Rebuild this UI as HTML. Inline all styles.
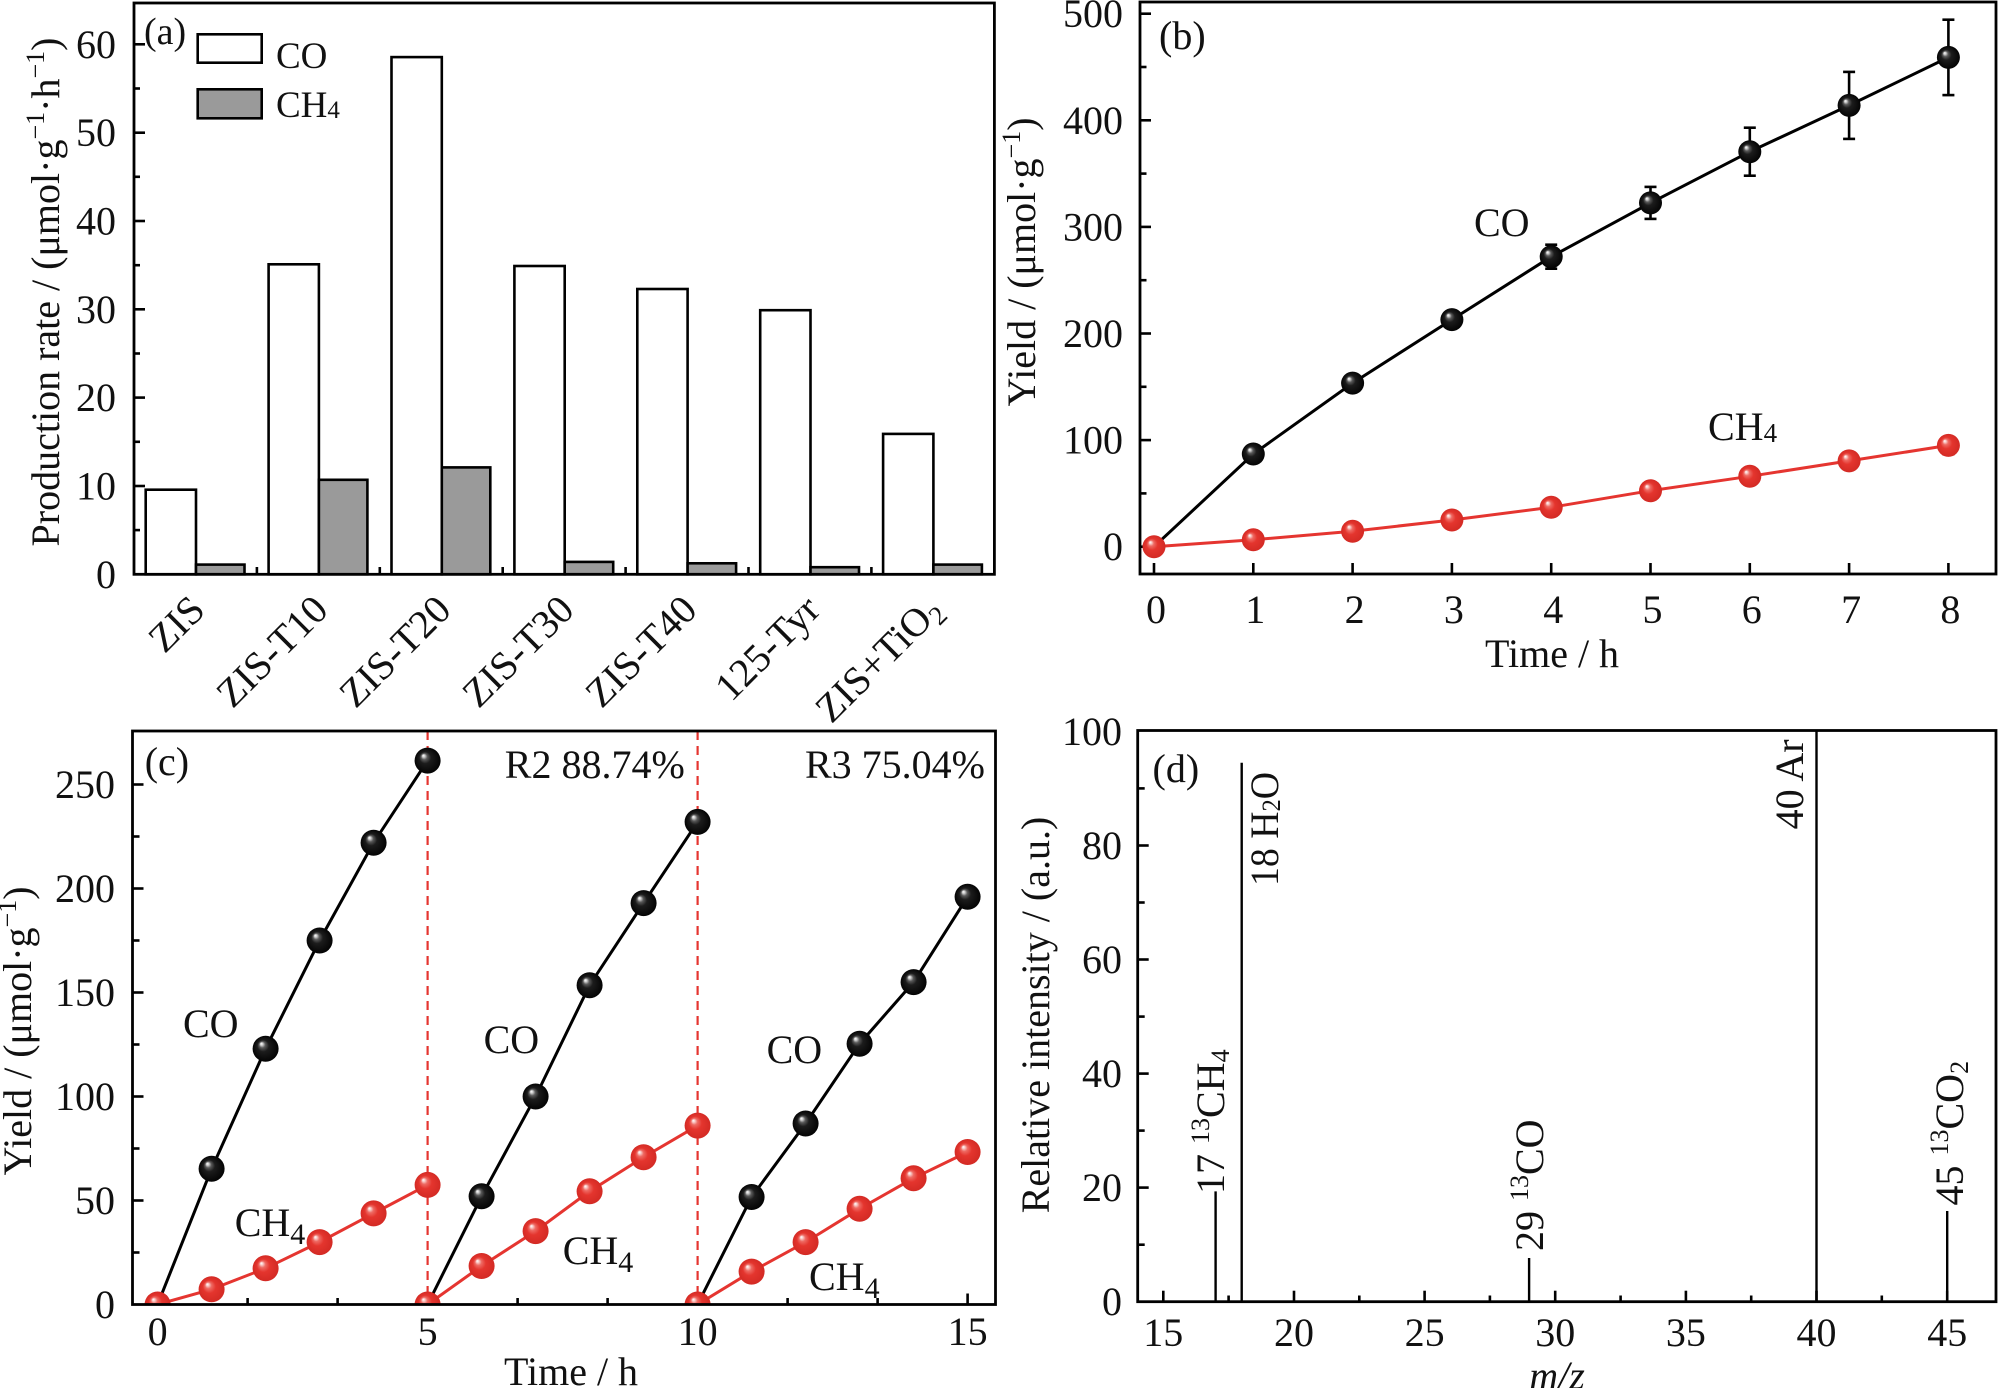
<!DOCTYPE html>
<html>
<head>
<meta charset="utf-8">
<style>
html,body{margin:0;padding:0;background:#fff;}
svg{display:block;}
text{font-family:"Liberation Serif","Times New Roman",serif;fill:#111;}
</style>
</head>
<body>
<svg width="2000" height="1388" viewBox="0 0 2000 1388" xmlns="http://www.w3.org/2000/svg">
<defs>
  <radialGradient id="gk" cx="0.5" cy="0.5" r="0.5" fx="0.33" fy="0.3">
    <stop offset="0" stop-color="#ffffff"/>
    <stop offset="0.1" stop-color="#d0d0d0"/>
    <stop offset="0.24" stop-color="#5a5a5a"/>
    <stop offset="0.45" stop-color="#1c1c1c"/>
    <stop offset="1" stop-color="#030303"/>
  </radialGradient>
  <radialGradient id="gr" cx="0.5" cy="0.5" r="0.5" fx="0.33" fy="0.3">
    <stop offset="0" stop-color="#ffffff"/>
    <stop offset="0.1" stop-color="#f9cfcc"/>
    <stop offset="0.25" stop-color="#ee6a63"/>
    <stop offset="0.5" stop-color="#e4352e"/>
    <stop offset="1" stop-color="#d32a24"/>
  </radialGradient>
  <clipPath id="clipc"><rect x="132.5" y="731" width="863" height="573.5"/></clipPath>
</defs>
<rect width="2000" height="1388" fill="#fff"/>

<!-- ================= PANEL A ================= -->
<g stroke="#000" stroke-width="2.6">
  <rect x="145.7" y="489.7" width="50.3" height="84.6" fill="#fff"/>
  <rect x="196" y="564.6" width="48.5" height="9.7" fill="#9a9a9a"/>
  <rect x="268.6" y="264.3" width="50.3" height="310" fill="#fff"/>
  <rect x="318.9" y="479.8" width="48.5" height="94.5" fill="#9a9a9a"/>
  <rect x="391.5" y="57.1" width="50.3" height="517.2" fill="#fff"/>
  <rect x="441.8" y="467.4" width="48.5" height="106.9" fill="#9a9a9a"/>
  <rect x="514.4" y="266.0" width="50.3" height="308.3" fill="#fff"/>
  <rect x="564.7" y="561.9" width="48.5" height="12.4" fill="#9a9a9a"/>
  <rect x="637.3" y="289.0" width="50.3" height="285.3" fill="#fff"/>
  <rect x="687.6" y="563.3" width="48.5" height="11" fill="#9a9a9a"/>
  <rect x="760.2" y="310.2" width="50.3" height="264.1" fill="#fff"/>
  <rect x="810.5" y="567.2" width="48.5" height="7.1" fill="#9a9a9a"/>
  <rect x="883.1" y="433.9" width="50.3" height="140.4" fill="#fff"/>
  <rect x="933.4" y="564.6" width="48.5" height="9.7" fill="#9a9a9a"/>
</g>
<rect x="134" y="3" width="860.4" height="571.3" fill="none" stroke="#000" stroke-width="2.8"/>
<g stroke="#000" stroke-width="2.6">
  <!-- y ticks major -->
  <line x1="134" y1="486" x2="145" y2="486"/>
  <line x1="134" y1="397.6" x2="145" y2="397.6"/>
  <line x1="134" y1="309.3" x2="145" y2="309.3"/>
  <line x1="134" y1="221" x2="145" y2="221"/>
  <line x1="134" y1="132.7" x2="145" y2="132.7"/>
  <line x1="134" y1="44.3" x2="145" y2="44.3"/>
  <!-- minor -->
  <line x1="134" y1="530.1" x2="140" y2="530.1"/>
  <line x1="134" y1="441.8" x2="140" y2="441.8"/>
  <line x1="134" y1="353.5" x2="140" y2="353.5"/>
  <line x1="134" y1="265.2" x2="140" y2="265.2"/>
  <line x1="134" y1="176.8" x2="140" y2="176.8"/>
  <line x1="134" y1="88.5" x2="140" y2="88.5"/>
  <!-- x ticks -->
  <line x1="256.9" y1="574.3" x2="256.9" y2="567"/>
  <line x1="379.8" y1="574.3" x2="379.8" y2="567"/>
  <line x1="502.7" y1="574.3" x2="502.7" y2="567"/>
  <line x1="625.6" y1="574.3" x2="625.6" y2="567"/>
  <line x1="748.5" y1="574.3" x2="748.5" y2="567"/>
  <line x1="871.4" y1="574.3" x2="871.4" y2="567"/>
</g>
<g font-size="40" text-anchor="end">
  <text x="116" y="587.8">0</text>
  <text x="116" y="499.5">10</text>
  <text x="116" y="411.1">20</text>
  <text x="116" y="322.8">30</text>
  <text x="116" y="234.5">40</text>
  <text x="116" y="146.2">50</text>
  <text x="116" y="57.8">60</text>
</g>
<g font-size="40" text-anchor="end">
  <text transform="translate(207,612) rotate(-45)">ZIS</text>
  <text transform="translate(330,612) rotate(-45)">ZIS-T10</text>
  <text transform="translate(453,612) rotate(-45)">ZIS-T20</text>
  <text transform="translate(576,612) rotate(-45)">ZIS-T30</text>
  <text transform="translate(699,612) rotate(-45)">ZIS-T40</text>
  <text transform="translate(822,612) rotate(-45)">125-Tyr</text>
  <text transform="translate(944,612) rotate(-45)">ZIS+TiO<tspan font-size="27" dy="7">2</tspan></text>
</g>
<text transform="translate(59,292) rotate(-90)" font-size="40" text-anchor="middle">Production rate / (μmol·g<tspan font-size="26" dy="-15">−1</tspan><tspan dy="15">·h</tspan><tspan font-size="26" dy="-15">−1</tspan><tspan dy="15">)</tspan></text>
<text x="144" y="44" font-size="38">(a)</text>
<rect x="197.7" y="34.3" width="64" height="28.4" fill="#fff" stroke="#000" stroke-width="2.6"/>
<rect x="197.7" y="89.3" width="64" height="29" fill="#9a9a9a" stroke="#000" stroke-width="2.6"/>
<text x="276" y="68" font-size="37">CO</text>
<text x="276" y="117" font-size="37">CH<tspan font-size="25" dy="1">4</tspan></text>

<!-- ================= PANEL B ================= -->
<rect x="1140" y="2" width="856" height="572" fill="none" stroke="#000" stroke-width="2.8"/>
<g stroke="#000" stroke-width="2.6">
  <line x1="1140" y1="546.7" x2="1151" y2="546.7"/>
  <line x1="1140" y1="440.1" x2="1151" y2="440.1"/>
  <line x1="1140" y1="333.5" x2="1151" y2="333.5"/>
  <line x1="1140" y1="226.9" x2="1151" y2="226.9"/>
  <line x1="1140" y1="120.3" x2="1151" y2="120.3"/>
  <line x1="1140" y1="13.7" x2="1151" y2="13.7"/>
  <line x1="1140" y1="493.4" x2="1146.5" y2="493.4"/>
  <line x1="1140" y1="386.8" x2="1146.5" y2="386.8"/>
  <line x1="1140" y1="280.2" x2="1146.5" y2="280.2"/>
  <line x1="1140" y1="173.6" x2="1146.5" y2="173.6"/>
  <line x1="1140" y1="67" x2="1146.5" y2="67"/>
  <line x1="1154" y1="574" x2="1154" y2="563"/>
  <line x1="1253.3" y1="574" x2="1253.3" y2="563"/>
  <line x1="1352.6" y1="574" x2="1352.6" y2="563"/>
  <line x1="1451.9" y1="574" x2="1451.9" y2="563"/>
  <line x1="1551.2" y1="574" x2="1551.2" y2="563"/>
  <line x1="1650.5" y1="574" x2="1650.5" y2="563"/>
  <line x1="1749.8" y1="574" x2="1749.8" y2="563"/>
  <line x1="1849.1" y1="574" x2="1849.1" y2="563"/>
  <line x1="1948.4" y1="574" x2="1948.4" y2="563"/>
</g>
<g font-size="40" text-anchor="end">
  <text x="1123" y="560.2">0</text>
  <text x="1123" y="453.6">100</text>
  <text x="1123" y="347">200</text>
  <text x="1123" y="240.4">300</text>
  <text x="1123" y="133.8">400</text>
  <text x="1123" y="27.2">500</text>
</g>
<g font-size="40" text-anchor="middle">
  <text x="1156" y="623">0</text>
  <text x="1255.3" y="623">1</text>
  <text x="1354.6" y="623">2</text>
  <text x="1453.9" y="623">3</text>
  <text x="1553.2" y="623">4</text>
  <text x="1652.5" y="623">5</text>
  <text x="1751.8" y="623">6</text>
  <text x="1851.1" y="623">7</text>
  <text x="1950.4" y="623">8</text>
</g>
<text x="1552" y="667" font-size="40" text-anchor="middle">Time / h</text>
<text transform="translate(1035,262) rotate(-90)" font-size="40" text-anchor="middle">Yield / (μmol·g<tspan font-size="26" dy="-15">−1</tspan><tspan dy="15">)</tspan></text>
<text x="1159" y="49" font-size="40">(b)</text>
<text x="1474" y="236" font-size="40">CO</text>
<text x="1708" y="440" font-size="40">CH<tspan font-size="27" dy="2">4</tspan></text>
<!-- lines -->
<polyline fill="none" stroke="#000" stroke-width="3" points="1154,546.7 1253.3,454 1352.6,383.1 1451.9,319.6 1551.2,256.7 1650.5,202.9 1749.8,151.7 1849.1,105.4 1948.4,57.4"/>
<polyline fill="none" stroke="#e53530" stroke-width="3" points="1154,546.7 1253.3,539.8 1352.6,531.2 1451.9,520 1551.2,507.3 1650.5,490.7 1749.8,476.3 1849.1,460.9 1948.4,445.4"/>
<!-- error bars -->
<g stroke="#000" stroke-width="2.6">
  <line x1="1551.2" y1="244.7" x2="1551.2" y2="268.7"/><line x1="1545.2" y1="244.7" x2="1557.2" y2="244.7"/><line x1="1545.2" y1="268.7" x2="1557.2" y2="268.7"/>
  <line x1="1650.5" y1="186.9" x2="1650.5" y2="218.9"/><line x1="1644.5" y1="186.9" x2="1656.5" y2="186.9"/><line x1="1644.5" y1="218.9" x2="1656.5" y2="218.9"/>
  <line x1="1749.8" y1="127.7" x2="1749.8" y2="175.7"/><line x1="1743.8" y1="127.7" x2="1755.8" y2="127.7"/><line x1="1743.8" y1="175.7" x2="1755.8" y2="175.7"/>
  <line x1="1849.1" y1="71.9" x2="1849.1" y2="138.9"/><line x1="1843.1" y1="71.9" x2="1855.1" y2="71.9"/><line x1="1843.1" y1="138.9" x2="1855.1" y2="138.9"/>
  <line x1="1948.4" y1="19.7" x2="1948.4" y2="95.1"/><line x1="1942.4" y1="19.7" x2="1954.4" y2="19.7"/><line x1="1942.4" y1="95.1" x2="1954.4" y2="95.1"/>
</g>
<g stroke="#d32a24" stroke-width="2.4">
  <line x1="1948.4" y1="436.4" x2="1948.4" y2="454.4"/><line x1="1942.4" y1="454.4" x2="1954.4" y2="454.4"/>
  <line x1="1849.1" y1="453.9" x2="1849.1" y2="467.9"/><line x1="1843.1" y1="467.9" x2="1855.1" y2="467.9"/>
</g>
<!-- markers -->
<g fill="url(#gk)">
  <circle cx="1253.3" cy="454" r="11.5"/>
  <circle cx="1352.6" cy="383.1" r="11.5"/>
  <circle cx="1451.9" cy="319.6" r="11.5"/>
  <circle cx="1551.2" cy="256.7" r="11.5"/>
  <circle cx="1650.5" cy="202.9" r="11.5"/>
  <circle cx="1749.8" cy="151.7" r="11.5"/>
  <circle cx="1849.1" cy="105.4" r="11.5"/>
  <circle cx="1948.4" cy="57.4" r="11.5"/>
</g>
<g fill="url(#gr)">
  <circle cx="1154" cy="546.7" r="11.5"/>
  <circle cx="1253.3" cy="539.8" r="11.5"/>
  <circle cx="1352.6" cy="531.2" r="11.5"/>
  <circle cx="1451.9" cy="520" r="11.5"/>
  <circle cx="1551.2" cy="507.3" r="11.5"/>
  <circle cx="1650.5" cy="490.7" r="11.5"/>
  <circle cx="1749.8" cy="476.3" r="11.5"/>
  <circle cx="1849.1" cy="460.9" r="11.5"/>
  <circle cx="1948.4" cy="445.4" r="11.5"/>
</g>

<!-- ================= PANEL C ================= -->
<g stroke="#e53530" stroke-width="2.2" stroke-dasharray="9 6">
  <line x1="427.6" y1="731" x2="427.6" y2="1304.5"/>
  <line x1="697.6" y1="731" x2="697.6" y2="1304.5"/>
</g>
<g stroke="#000" stroke-width="2.6">
  <line x1="132.5" y1="1200.5" x2="143.5" y2="1200.5"/>
  <line x1="132.5" y1="1096.5" x2="143.5" y2="1096.5"/>
  <line x1="132.5" y1="992.5" x2="143.5" y2="992.5"/>
  <line x1="132.5" y1="888.5" x2="143.5" y2="888.5"/>
  <line x1="132.5" y1="784.5" x2="143.5" y2="784.5"/>
  <line x1="132.5" y1="1252.5" x2="139.5" y2="1252.5"/>
  <line x1="132.5" y1="1148.5" x2="139.5" y2="1148.5"/>
  <line x1="132.5" y1="1044.5" x2="139.5" y2="1044.5"/>
  <line x1="132.5" y1="940.5" x2="139.5" y2="940.5"/>
  <line x1="132.5" y1="836.5" x2="139.5" y2="836.5"/>
  <line x1="157.6" y1="1304.5" x2="157.6" y2="1293.5"/>
  <line x1="427.6" y1="1304.5" x2="427.6" y2="1293.5"/>
  <line x1="697.6" y1="1304.5" x2="697.6" y2="1293.5"/>
  <line x1="967.6" y1="1304.5" x2="967.6" y2="1293.5"/>
  <line x1="247.6" y1="1304.5" x2="247.6" y2="1298"/>
  <line x1="337.6" y1="1304.5" x2="337.6" y2="1298"/>
  <line x1="517.6" y1="1304.5" x2="517.6" y2="1298"/>
  <line x1="607.6" y1="1304.5" x2="607.6" y2="1298"/>
  <line x1="787.6" y1="1304.5" x2="787.6" y2="1298"/>
  <line x1="877.6" y1="1304.5" x2="877.6" y2="1298"/>
</g>
<g font-size="40" text-anchor="end">
  <text x="115" y="1318">0</text>
  <text x="115" y="1214">50</text>
  <text x="115" y="1110">100</text>
  <text x="115" y="1006">150</text>
  <text x="115" y="902">200</text>
  <text x="115" y="798">250</text>
</g>
<g font-size="40" text-anchor="middle">
  <text x="157.6" y="1345">0</text>
  <text x="427.6" y="1345">5</text>
  <text x="697.6" y="1345">10</text>
  <text x="967.6" y="1345">15</text>
</g>
<text x="571" y="1385" font-size="40" text-anchor="middle">Time / h</text>
<text transform="translate(31,1031) rotate(-90)" font-size="40" text-anchor="middle">Yield / (μmol·g<tspan font-size="26" dy="-15">−1</tspan><tspan dy="15">)</tspan></text>
<text x="144.7" y="775" font-size="40">(c)</text>
<text x="504.8" y="778" font-size="40">R2 88.74%</text>
<text x="805" y="778" font-size="40">R3 75.04%</text>
<text x="183" y="1037" font-size="40">CO</text>
<text x="483.6" y="1053" font-size="40">CO</text>
<text x="766.6" y="1063" font-size="40">CO</text>
<text x="234.7" y="1236" font-size="40">CH<tspan font-size="30" dy="8">4</tspan></text>
<text x="562.7" y="1264" font-size="40">CH<tspan font-size="30" dy="8">4</tspan></text>
<text x="809" y="1290" font-size="40">CH<tspan font-size="30" dy="8">4</tspan></text>
<g clip-path="url(#clipc)">
  <g fill="none" stroke="#000" stroke-width="3">
    <polyline points="157.6,1304.5 211.6,1168.7 265.6,1048.7 319.6,940.5 373.6,842.7 427.6,760.6"/>
    <polyline points="427.6,1304.5 481.6,1196.3 535.6,1096.5 589.6,985.2 643.6,903.1 697.6,821.9"/>
    <polyline points="697.6,1304.5 751.6,1197 805.6,1123.5 859.6,1043.7 913.6,982.1 967.6,896.8"/>
  </g>
  <g fill="none" stroke="#e53530" stroke-width="3">
    <polyline points="157.6,1304.5 211.6,1289.3 265.6,1268.3 319.6,1242.1 373.6,1213.4 427.6,1184.9"/>
    <polyline points="427.6,1304.5 481.6,1266 535.6,1231.1 589.6,1191.3 643.6,1157.2 697.6,1125.6"/>
    <polyline points="697.6,1304.5 751.6,1271.6 805.6,1242.1 859.6,1208.8 913.6,1178.2 967.6,1152"/>
  </g>
  <g fill="url(#gk)">
    <circle cx="211.6" cy="1168.7" r="13"/>
    <circle cx="265.6" cy="1048.7" r="13"/>
    <circle cx="319.6" cy="940.5" r="13"/>
    <circle cx="373.6" cy="842.7" r="13"/>
    <circle cx="427.6" cy="760.6" r="13"/>
    <circle cx="481.6" cy="1196.3" r="13"/>
    <circle cx="535.6" cy="1096.5" r="13"/>
    <circle cx="589.6" cy="985.2" r="13"/>
    <circle cx="643.6" cy="903.1" r="13"/>
    <circle cx="697.6" cy="821.9" r="13"/>
    <circle cx="751.6" cy="1197" r="13"/>
    <circle cx="805.6" cy="1123.5" r="13"/>
    <circle cx="859.6" cy="1043.7" r="13"/>
    <circle cx="913.6" cy="982.1" r="13"/>
    <circle cx="967.6" cy="896.8" r="13"/>
  </g>
  <g fill="url(#gr)">
    <circle cx="157.6" cy="1304.5" r="13"/>
    <circle cx="211.6" cy="1289.3" r="13"/>
    <circle cx="265.6" cy="1268.3" r="13"/>
    <circle cx="319.6" cy="1242.1" r="13"/>
    <circle cx="373.6" cy="1213.4" r="13"/>
    <circle cx="427.6" cy="1184.9" r="13"/>
    <circle cx="427.6" cy="1304.5" r="13"/>
    <circle cx="481.6" cy="1266" r="13"/>
    <circle cx="535.6" cy="1231.1" r="13"/>
    <circle cx="589.6" cy="1191.3" r="13"/>
    <circle cx="643.6" cy="1157.2" r="13"/>
    <circle cx="697.6" cy="1125.6" r="13"/>
    <circle cx="697.6" cy="1304.5" r="13"/>
    <circle cx="751.6" cy="1271.6" r="13"/>
    <circle cx="805.6" cy="1242.1" r="13"/>
    <circle cx="859.6" cy="1208.8" r="13"/>
    <circle cx="913.6" cy="1178.2" r="13"/>
    <circle cx="967.6" cy="1152" r="13"/>
  </g>
</g>
<rect x="132.5" y="731" width="863" height="573.5" fill="none" stroke="#000" stroke-width="2.8"/>

<!-- ================= PANEL D ================= -->
<rect x="1137.7" y="730.5" width="858.3" height="571.2" fill="none" stroke="#000" stroke-width="2.8"/>
<g stroke="#000" stroke-width="2.6">
  <line x1="1137.7" y1="1187.6" x2="1148.7" y2="1187.6"/>
  <line x1="1137.7" y1="1073.6" x2="1148.7" y2="1073.6"/>
  <line x1="1137.7" y1="959.5" x2="1148.7" y2="959.5"/>
  <line x1="1137.7" y1="845.5" x2="1148.7" y2="845.5"/>
  <line x1="1137.7" y1="1244.7" x2="1144.7" y2="1244.7"/>
  <line x1="1137.7" y1="1130.6" x2="1144.7" y2="1130.6"/>
  <line x1="1137.7" y1="1016.6" x2="1144.7" y2="1016.6"/>
  <line x1="1137.7" y1="902.5" x2="1144.7" y2="902.5"/>
  <line x1="1137.7" y1="788.4" x2="1144.7" y2="788.4"/>
  <line x1="1163.3" y1="1301.7" x2="1163.3" y2="1290.7"/>
  <line x1="1294" y1="1301.7" x2="1294" y2="1290.7"/>
  <line x1="1424.6" y1="1301.7" x2="1424.6" y2="1290.7"/>
  <line x1="1555.2" y1="1301.7" x2="1555.2" y2="1290.7"/>
  <line x1="1685.9" y1="1301.7" x2="1685.9" y2="1290.7"/>
  <line x1="1816.5" y1="1301.7" x2="1816.5" y2="1290.7"/>
  <line x1="1947.2" y1="1301.7" x2="1947.2" y2="1290.7"/>
  <line x1="1228.6" y1="1301.7" x2="1228.6" y2="1295.5"/>
  <line x1="1359.3" y1="1301.7" x2="1359.3" y2="1295.5"/>
  <line x1="1489.9" y1="1301.7" x2="1489.9" y2="1295.5"/>
  <line x1="1620.6" y1="1301.7" x2="1620.6" y2="1295.5"/>
  <line x1="1751.2" y1="1301.7" x2="1751.2" y2="1295.5"/>
  <line x1="1881.8" y1="1301.7" x2="1881.8" y2="1295.5"/>
</g>
<g stroke="#000" stroke-width="2.4">
  <line x1="1215.6" y1="1301.7" x2="1215.6" y2="1191.4"/>
  <line x1="1241.7" y1="1301.7" x2="1241.7" y2="762.7"/>
  <line x1="1529.1" y1="1301.7" x2="1529.1" y2="1258"/>
  <line x1="1816.5" y1="1301.7" x2="1816.5" y2="730.5"/>
  <line x1="1947.2" y1="1301.7" x2="1947.2" y2="1211"/>
</g>
<g font-size="40" text-anchor="end">
  <text x="1122" y="1315.2">0</text>
  <text x="1122" y="1201.1">20</text>
  <text x="1122" y="1087.1">40</text>
  <text x="1122" y="973">60</text>
  <text x="1122" y="859">80</text>
  <text x="1122" y="744.9">100</text>
</g>
<g font-size="40" text-anchor="middle">
  <text x="1163.3" y="1346">15</text>
  <text x="1294" y="1346">20</text>
  <text x="1424.6" y="1346">25</text>
  <text x="1555.2" y="1346">30</text>
  <text x="1685.9" y="1346">35</text>
  <text x="1816.5" y="1346">40</text>
  <text x="1947.2" y="1346">45</text>
</g>
<text x="1557" y="1389" font-size="40" text-anchor="middle" font-style="italic">m/z</text>
<text transform="translate(1049,1015) rotate(-90)" font-size="40" text-anchor="middle">Relative intensity / (a.u.)</text>
<text x="1152.5" y="782" font-size="40">(d)</text>
<g font-size="40">
  <text transform="translate(1224,1194) rotate(-90)">17 <tspan font-size="26" dy="-15">13</tspan><tspan dy="15">CH</tspan><tspan font-size="26" dy="5">4</tspan></text>
  <text transform="translate(1278,886) rotate(-90)" textLength="114" lengthAdjust="spacingAndGlyphs">18 H<tspan font-size="26" dy="2">2</tspan><tspan dy="-2">O</tspan></text>
  <text transform="translate(1543,1251) rotate(-90)">29 <tspan font-size="26" dy="-15">13</tspan><tspan dy="15">CO</tspan></text>
  <text transform="translate(1803,829.4) rotate(-90)">40 Ar</text>
  <text transform="translate(1963,1205.5) rotate(-90)">45 <tspan font-size="26" dy="-15">13</tspan><tspan dy="15">CO</tspan><tspan font-size="26" dy="5">2</tspan></text>
</g>
</svg>
</body>
</html>
